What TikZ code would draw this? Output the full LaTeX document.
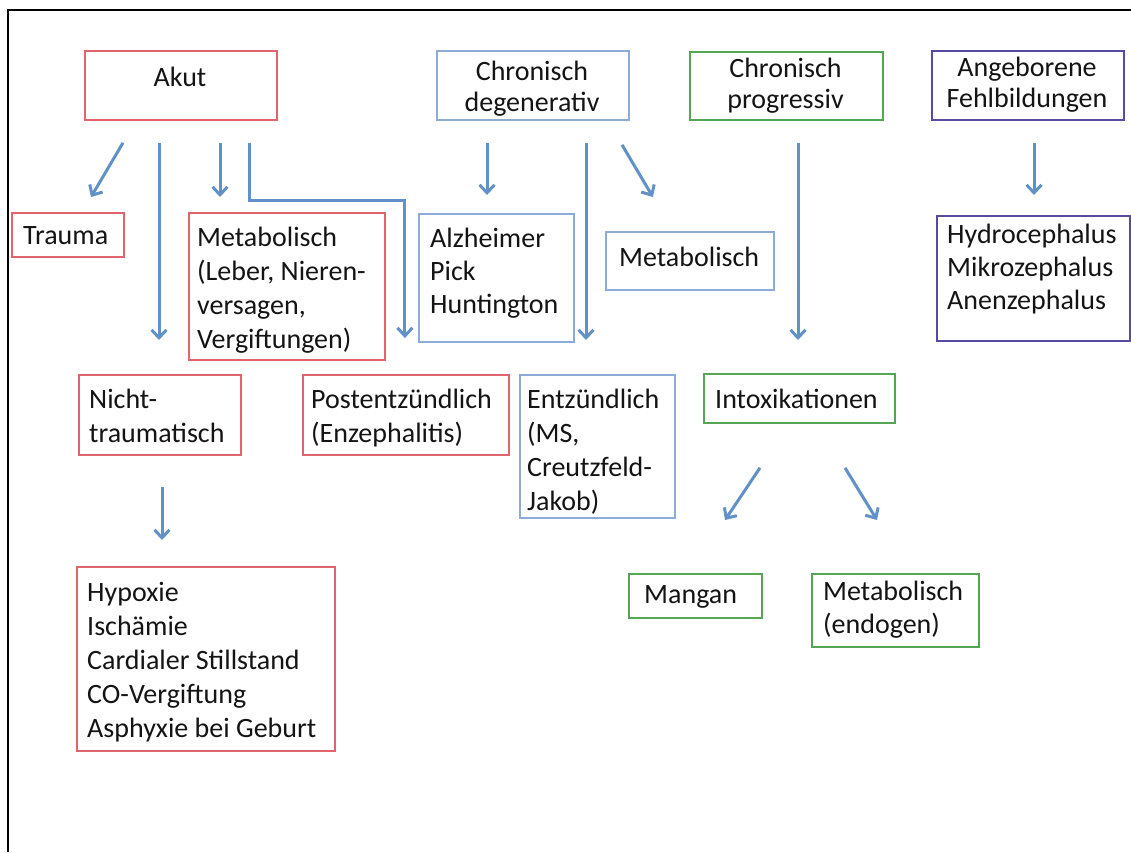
\documentclass[tikz,border=0pt]{standalone}
\usepackage{fontspec}
\setmainfont{Carlito}
\usetikzlibrary{arrows.meta,calc}
\definecolor{cred}{RGB}{225,100,108}
\definecolor{cblue}{RGB}{140,172,215}
\definecolor{cgreen}{RGB}{85,165,85}
\definecolor{cpurple}{RGB}{85,75,165}
\definecolor{carrow}{RGB}{98,145,200}
\definecolor{ctext}{RGB}{20,20,20}
\newcommand{\fsA}{\fontsize{28}{34}\selectfont}
\newcommand{\fsB}{\fontsize{28}{31}\selectfont}
\newcommand{\fsC}{\fontsize{28}{33}\selectfont}
\begin{document}
\begin{tikzpicture}[x=1pt,y=-1pt,
  box/.style={draw, line width=1.8pt, rectangle, inner sep=0pt, anchor=north west},
  rbox/.style={box, draw=cred},
  bbox/.style={box, draw=cblue},
  gbox/.style={box, draw=cgreen},
  pbox/.style={box, draw=cpurple},
  txt/.style={inner sep=0pt, anchor=north west, align=left, font=\fsA, text=ctext},
  htxt/.style={inner sep=0pt, anchor=north, align=center, font=\fsB, text=ctext},
  arr/.style={draw=carrow, line width=3pt, -{Straight Barb[length=8pt,width=15pt]}}
]
\useasboundingbox (0,0) rectangle (1131,852);
\fill[white] (0,0) rectangle (1131,852);
\draw[line width=2.5pt] (1131,10) -- (8,10) -- (8,852);

% boxes
\node[rbox, minimum width=192pt, minimum height=69pt] (akut) at (84,50) {};
\node[bbox, minimum width=192pt, minimum height=69pt] (chdeg) at (436,50) {};
\node[gbox, minimum width=193pt, minimum height=68pt] (chprog) at (689,51) {};
\node[pbox, minimum width=192pt, minimum height=69pt] (angeb) at (931,50) {};
\node[rbox, minimum width=112pt, minimum height=44pt] (trauma) at (11,212) {};
\node[rbox, minimum width=196pt, minimum height=147pt] (metab1) at (188,212) {};
\node[bbox, minimum width=155pt, minimum height=128pt] (alz) at (418,213) {};
\node[bbox, minimum width=168pt, minimum height=58pt] (metab2) at (605,231) {};
\node[pbox, minimum width=193pt, minimum height=125pt] (hydro) at (936,215) {};
\node[rbox, minimum width=162pt, minimum height=80pt] (nicht) at (78,374) {};
\node[rbox, minimum width=206pt, minimum height=80pt] (post) at (302,374) {};
\node[bbox, minimum width=155pt, minimum height=143pt] (entz) at (519,374) {};
\node[gbox, minimum width=191pt, minimum height=49pt] (intox) at (703,373) {};
\node[gbox, minimum width=133pt, minimum height=44pt] (mangan) at (628,573) {};
\node[gbox, minimum width=167pt, minimum height=73pt] (metab3) at (811,573) {};
\node[rbox, minimum width=258pt, minimum height=184pt] (hypox) at (76,566) {};

% texts
\node[htxt] (akutT) at (180,64.3) {\strut Akut};
\node[htxt] (chdegT) at (532,58.3) {\strut Chronisch\\degenerativ};
\node[htxt] (chprogT) at (785.5,55.3) {\strut Chronisch\\progressiv};
\node[htxt] (angebT) at (1027,54.3) {\strut Angeborene\\Fehlbildungen};
\node[txt] (traumaT) at (23,220.2) {\strut Trauma};
\node[txt] (metab1T) at (197,222.2) {\strut Metabolisch\\(Leber, Nieren-\\versagen,\\Vergiftungen)};
\node[txt, font=\fsC] (alzT) at (430,223.9) {\strut Alzheimer\\Pick\\Huntington};
\node[txt] (metab2T) at (619,242.2) {\strut Metabolisch};
\node[txt, font=\fsC] (hydroT) at (947,219.9) {\strut Hydrocephalus\\Mikrozephalus\\Anenzephalus};
\node[txt] (nichtT) at (89,384.2) {\strut Nicht-\\traumatisch};
\node[txt] (postT) at (311,384.2) {\strut Postentzündlich\\(Enzephalitis)};
\node[txt] (entzT) at (527,384.2) {\strut Entzündlich\\(MS,\\Creutzfeld-\\Jakob)};
\node[txt] (intoxT) at (715,384.2) {\strut Intoxikationen};
\node[txt] (manganT) at (644,579.2) {\strut Mangan};
\node[txt, font=\fsC] (metab3T) at (823,576.9) {\strut Metabolisch\\(endogen)};
\node[txt] (hypoxT) at (87,577.2) {\strut Hypoxie\\Ischämie\\Cardialer Stillstand\\CO-Vergiftung\\Asphyxie bei Geburt};

% arrows
\draw[arr] ($(akut.south west)+(39,22)$) -- ($(trauma.north west)+(80,-15)$);
\draw[arr] ($(akut.south west)+(75,22)$) -- ($(nicht.north west)+(81,-34)$);
\draw[arr] ($(akut.south west)+(136,22)$) -- ($(metab1.north west)+(32,-15)$);
\draw[arr] ($(akut.south west)+(165,22)$) |- ($(post.north)+(-1,-174)$) -- ($(post.north)+(-1,-36)$);
\draw[arr] ($(chdeg.south west)+(51,22)$) -- ($(alz.north west)+(69,-18)$);
\draw[arr] ($(chdeg.south west)+(150,22)$) -- ($(entz.north west)+(67,-34)$);
\draw[arr] ($(chdeg.south west)+(186,24)$) -- ($(metab2.north)+(-37,-34)$);
\draw[arr] ($(chprog.south west)+(109,22)$) -- ($(intox.north west)+(95,-33)$);
\draw[arr] ($(angeb.south west)+(103,22)$) -- ($(hydro.north west)+(98,-20)$);
\draw[arr] ($(nicht.south west)+(84,31)$) -- ($(hypox.north west)+(86,-26)$);
\draw[arr] ($(intox.south west)+(57,44)$) -- ($(mangan.north west)+(97,-53)$);
\draw[arr] ($(intox.south west)+(142,44)$) -- ($(metab3.north west)+(66,-53)$);
\end{tikzpicture}
\end{document}
